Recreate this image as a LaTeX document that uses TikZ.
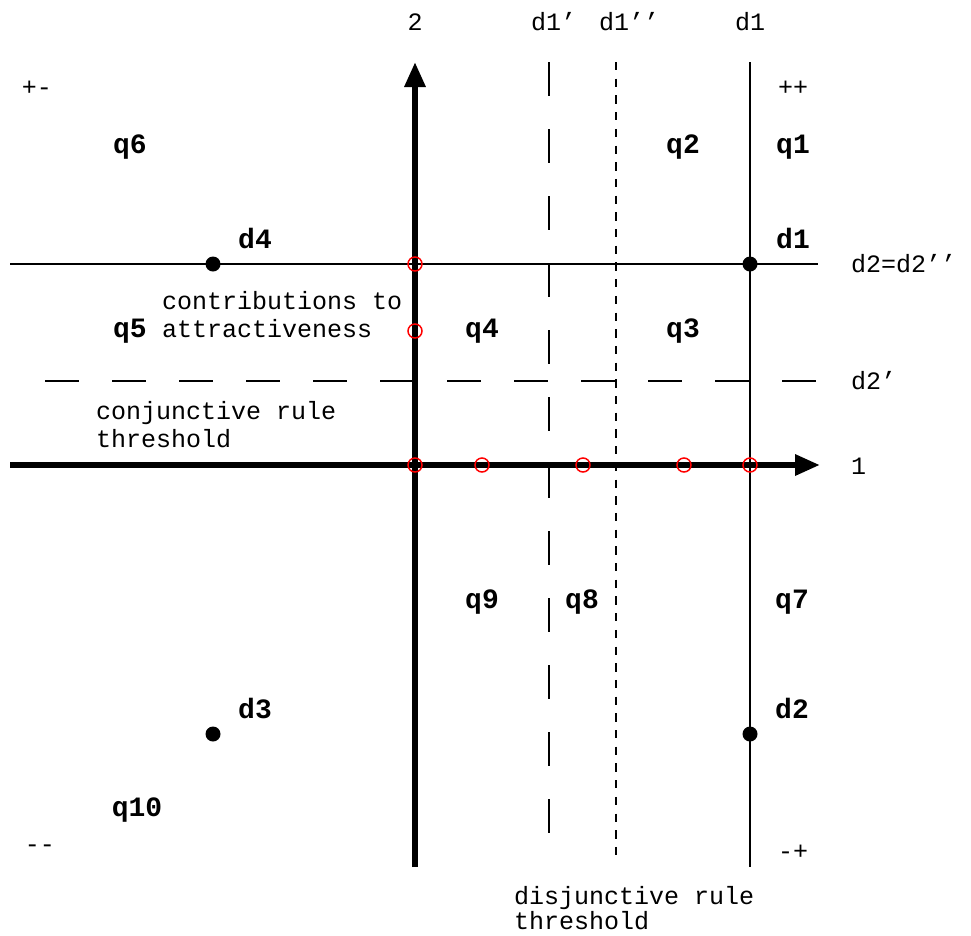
\documentclass[tikz,border=0pt]{standalone}
\usepackage{fontspec}
\newfontfamily\mono{Liberation Mono}
\usetikzlibrary{arrows.meta}
\begin{document}
\begin{tikzpicture}[x=1pt,y=-1pt,
  reg/.style={font=\mono\fontsize{25}{28.5}\selectfont, inner sep=0},
  lab/.style={font=\mono\bfseries\fontsize{28}{32}\selectfont, inner sep=0},
  dot/.style={circle, fill=black, minimum size=15pt, inner sep=0},
  ring/.style={circle, draw=red, line width=1.5pt, minimum size=14pt, inner sep=0},
  thinline/.style={line width=2pt},
  longdash/.style={line width=2pt, dash pattern=on 33.5pt off 33.5pt},
  shortdash/.style={line width=2pt, dash pattern=on 8.3pt off 8.4pt},
  axis/.style={line width=6pt, -{Triangle[length=25pt,width=20pt]}}]
\useasboundingbox (0,0) rectangle (971,935);
% coordinates
\coordinate (a2b) at (415,867);
\coordinate (a2t) at (415,62);
\coordinate (a1l) at (10,465);
\coordinate (a1r) at (820,465);
\coordinate (d1t) at (750,62);
\coordinate (d1b) at (750,867);
\coordinate (d1pt) at (549,62);
\coordinate (d1pb) at (549,833);
\coordinate (d1ppt) at (616,62);
\coordinate (d1ppb) at (616,862);
\coordinate (d2l) at (10,264);
\coordinate (d2r) at (818,264);
\coordinate (d2pl) at (45,381);
\coordinate (d2pr) at (818,381);
% lines
\draw[thinline] (d2l) -- (d2r);
\draw[thinline] (d1t) -- (d1b);
\draw[longdash] (d1pt) -- (d1pb);
\draw[shortdash] (d1ppt) -- (d1ppb);
\draw[longdash] (d2pl) -- (d2pr);
\draw[axis] (a1l) -- (a1r);
\draw[axis] (a2b) -- (a2t);
% points
\node[dot] (pd4) at (213,264) {};
\node[dot] (pd1) at (750,264) {};
\node[dot] (pd3) at (213,734) {};
\node[dot] (pd2) at (750,734) {};
% red rings
\node[ring] (r1) at (415,264) {};
\node[ring] (r2) at (415,331) {};
\node[ring] (r3) at (415,465) {};
\node[ring] (r4) at (482,465) {};
\node[ring] (r5) at (583,465) {};
\node[ring] (r6) at (684,465) {};
\node[ring] (r7) at (750,465) {};
% top labels
\node[reg, anchor=base] (t2) at (415,30) {2};
\node[reg, anchor=base west] (td1p) at (531,30) {d1’};
\node[reg, anchor=base west] (td1pp) at (599,30) {d1’’};
\node[reg, anchor=base] (td1) at (750,30) {d1};
% signs
\node[reg, anchor=base] (spm) at (37,95) {+-};
\node[reg, anchor=base] (spp) at (793,95) {++};
\node[reg, anchor=base] (smm) at (40,852) {--};
\node[reg, anchor=base] (smp) at (793,859) {-+};
% right labels
\node[reg, anchor=base west] (rd2) at (851,272) {d2=d2’’};
\node[reg, anchor=base west] (rd2p) at (851,389) {d2’};
\node[reg, anchor=base west] (r1l) at (851,474) {1};
% bold labels
\node[lab, anchor=base] (q6) at (130,153) {q6};
\node[lab, anchor=base] (q2) at (683,153) {q2};
\node[lab, anchor=base] (q1) at (793,153) {q1};
\node[lab, anchor=base] (ld4) at (255,248) {d4};
\node[lab, anchor=base] (ld1) at (793,248) {d1};
\node[lab, anchor=base] (q5) at (130,337) {q5};
\node[lab, anchor=base] (q4) at (482,337) {q4};
\node[lab, anchor=base] (q3) at (683,337) {q3};
\node[lab, anchor=base] (q9) at (482,608) {q9};
\node[lab, anchor=base] (q8) at (582,608) {q8};
\node[lab, anchor=base] (q7) at (792,608) {q7};
\node[lab, anchor=base] (ld3) at (255,718) {d3};
\node[lab, anchor=base] (ld2) at (792,718) {d2};
\node[lab, anchor=base] (q10) at (137,816) {q10};
% notes
\node[reg, anchor=north west, align=left] (contrib) at (162,291) {contributions to\\attractiveness};
\node[reg, anchor=north west, align=left] (conj) at (96,401) {conjunctive rule\\threshold};
\node[reg, anchor=north west, align=left, font=\mono\fontsize{25}{25}\selectfont] (disj) at (514,886) {disjunctive rule\\threshold};
\end{tikzpicture}
\end{document}
